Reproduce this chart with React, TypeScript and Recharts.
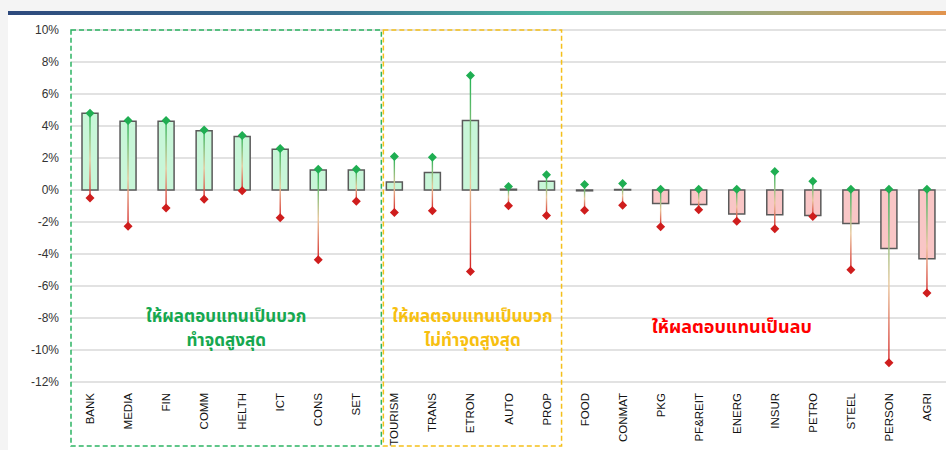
import {
  ComposedChart,
  Bar,
  XAxis,
  YAxis,
  CartesianGrid,
  ReferenceArea,
  Cell,
} from "recharts";

const categories = [
  "BANK", "MEDIA", "FIN", "COMM", "HELTH", "ICT", "CONS", "SET",
  "TOURISM", "TRANS", "ETRON", "AUTO", "PROP",
  "FOOD", "CONMAT", "PKG", "PF&REIT", "ENERG", "INSUR", "PETRO", "STEEL", "PERSON", "AGRI",
];
const returns = [
  4.8, 4.3, 4.3, 3.7, 3.35, 2.55, 1.25, 1.25,
  0.5, 1.1, 4.35, 0.05, 0.55,
  -0.05, 0.03, -0.85, -0.9, -1.5, -1.55, -1.6, -2.1, -3.65, -4.3,
];
const highs = [
  4.8, 4.35, 4.35, 3.75, 3.4, 2.6, 1.3, 1.3,
  2.1, 2.05, 7.15, 0.22, 0.95,
  0.35, 0.4, 0.05, 0.05, 0.05, 1.15, 0.55, 0.05, 0.05, 0.05,
];
const lows = [
  -0.5, -2.27, -1.13, -0.58, -0.05, -1.73, -4.36, -0.71,
  -1.4, -1.3, -5.1, -0.98, -1.6,
  -1.27, -0.96, -2.3, -1.23, -1.96, -2.42, -1.65, -4.98, -10.8, -6.44,
];
const yTicks = [10, 8, 6, 4, 2, 0, -2, -4, -6, -8, -10, -12];

const data = categories.map((name, i) => ({
  name,
  ret: returns[i],
  range: [lows[i], highs[i]],
}));

const thaiFont = "'Noto Sans Thai', 'Noto Sans Thai UI', Tahoma, 'Leelawadee UI', sans-serif";

function Diamond({ cx, cy, fill }: { cx: number; cy: number; fill: string }) {
  const r = 4.5;
  return (
    <path
      d={`M${cx},${cy - r} L${cx + r},${cy} L${cx},${cy + r} L${cx - r},${cy} Z`}
      fill={fill}
    />
  );
}

function RangeShape(props: any) {
  const { x, y, width, height, index } = props;
  const cx = x + width / 2;
  const top = Math.min(y, y + height);
  const bottom = Math.max(y, y + height);
  const id = `rg${index}`;
  return (
    <g>
      <defs>
        <linearGradient id={id} gradientUnits="userSpaceOnUse" x1={cx} y1={top} x2={cx} y2={bottom}>
          <stop offset="0%" stopColor="#22b455" />
          <stop offset="55%" stopColor="#e9c79c" />
          <stop offset="100%" stopColor="#d42020" />
        </linearGradient>
      </defs>
      <line x1={cx} y1={top} x2={cx} y2={bottom} stroke={`url(#${id})`} strokeWidth={1.4} />
      <Diamond cx={cx} cy={top} fill="#1fae52" />
      <Diamond cx={cx} cy={bottom} fill="#cf1d1d" />
    </g>
  );
}

function XTick(props: any) {
  const { x, y, payload } = props;
  return (
    <text
      transform={`translate(${x},${y + 3}) rotate(-90)`}
      textAnchor="end"
      dominantBaseline="central"
      fontSize={11.5}
      fontFamily="'Liberation Sans', Arial, sans-serif"
      fill="#111"
    >
      {payload.value}
    </text>
  );
}

function boxShape(color: string, textColor: string, lines: string[], dx1: number, dx2: number) {
  return (p: any) => {
    const { x, y, width, height } = p;
    const cx = x + dx1 + (width - dx1 + dx2) / 2;
    return (
      <g>
        <rect
          x={x + dx1}
          y={y}
          width={width - dx1 + dx2}
          height={height}
          fill="none"
          stroke={color}
          strokeWidth={1.5}
          strokeDasharray="5 3"
        />
        {lines.map((t, i) => (
          <text
            key={i}
            x={cx}
            y={y + 287 + i * 24}
            textAnchor="middle"
            dominantBaseline="central"
            fontSize={17}
            fontWeight="bold"
            fontFamily={thaiFont}
            fill={textColor}
          >
            {t}
          </text>
        ))}
      </g>
    );
  };
}

function redLabel(p: any) {
  const { x, y, width } = p;
  return (
    <text
      x={x + width / 2 - 5}
      y={y + 297}
      textAnchor="middle"
      dominantBaseline="central"
      fontSize={18}
      fontWeight="bold"
      fontFamily={thaiFont}
      fill="#ff0000"
    >
      ให้ผลตอบแทนเป็นลบ
    </text>
  );
}

export default function App() {
  return (
    <div
      style={{
        position: "absolute",
        left: 0,
        top: 0,
        width: 946,
        height: 450,
        background: "#f4f4f4",
        overflow: "hidden",
      }}
    >
      <div style={{ position: "absolute", left: 8, top: 15, width: 938, height: 435, background: "#fff" }} />
      <div
        style={{
          position: "absolute",
          left: 8,
          top: 11,
          width: 938,
          height: 4,
          background:
            "linear-gradient(90deg, #2e4a7d 0%, #3a7390 35%, #4bb5a0 58%, #a5a677 82%, #e2944e 100%)",
        }}
      />
      <div style={{ position: "absolute", left: 0, top: 0 }}>
        <ComposedChart
          width={946}
          height={450}
          data={data}
          margin={{ top: 30, right: 0, bottom: 0, left: 0 }}
        >
          <CartesianGrid xAxisId="a" vertical={false} stroke="#d9d9d9" strokeWidth={1.3} />
          <XAxis
            xAxisId="a"
            dataKey="name"
            height={68}
            interval={0}
            axisLine={false}
            tickLine={false}
            tick={<XTick />}
          />
          <XAxis xAxisId="b" dataKey="name" hide />
          <YAxis
            domain={[-12, 10]}
            ticks={yTicks}
            interval={0}
            width={71}
            axisLine={false}
            tickLine={false}
            tickMargin={6}
            tickFormatter={(v) => `${v}%`}
            tick={{ fontSize: 12, fill: "#333", fontFamily: "'Liberation Sans', Arial, sans-serif" }}
          />
          <Bar
            xAxisId="a"
            dataKey="ret"
            barSize={16}
            stroke="#5a5a5a"
            strokeWidth={1.5}
            isAnimationActive={false}
          >
            {data.map((d, i) => (
              <Cell key={i} fill={d.ret >= 0 ? "#c8f6d8" : "#f9c6c6"} />
            ))}
          </Bar>
          <Bar
            xAxisId="b"
            dataKey="range"
            barSize={16}
            shape={RangeShape}
            isAnimationActive={false}
          />
          <ReferenceArea
            xAxisId="a"
            x1="BANK"
            x2="SET"
            y1={10}
            y2={-16}
            ifOverflow="visible"
            shape={boxShape("#2cb463", "#16a84f", ["ให้ผลตอบแทนเป็นบวก", "ทำจุดสูงสุด"], 0, 6)}
          />
          <ReferenceArea
            xAxisId="a"
            x1="TOURISM"
            x2="PROP"
            y1={10}
            y2={-16}
            ifOverflow="visible"
            shape={boxShape("#f5c01a", "#f7c010", ["ให้ผลตอบแทนเป็นบวก", "ไม่ทำจุดสูงสุด"], 8, -4)}
          />
          <ReferenceArea
            xAxisId="a"
            x1="FOOD"
            x2="PERSON"
            y1={10}
            y2={-16}
            ifOverflow="visible"
            shape={redLabel}
          />
        </ComposedChart>
      </div>
    </div>
  );
}
